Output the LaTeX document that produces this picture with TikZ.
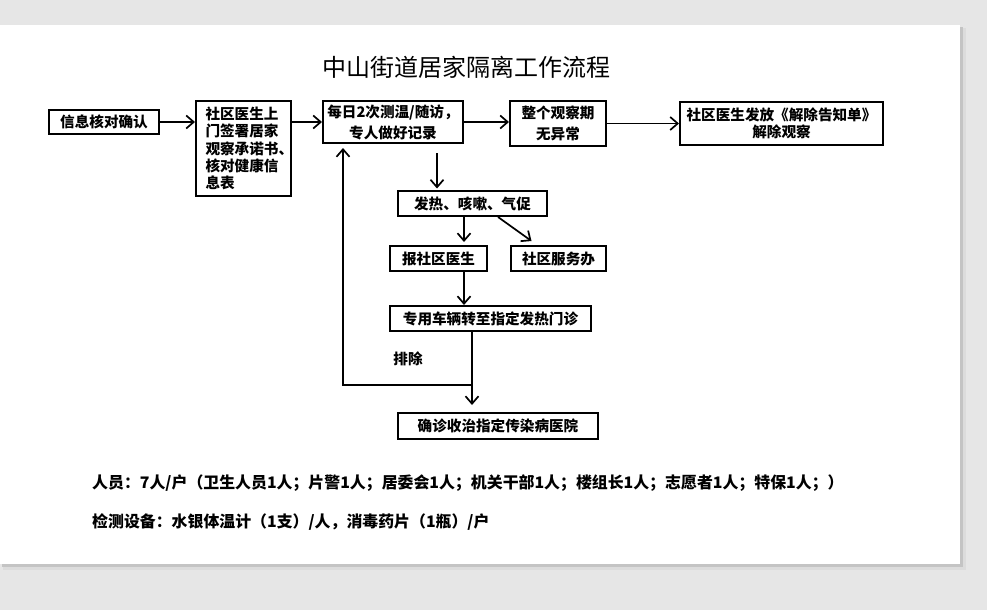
\documentclass[tikz,border=0pt]{standalone}
\usepackage{fontspec}
\setmainfont{Noto Sans CJK SC}
\usetikzlibrary{positioning, calc, arrows.meta}
\definecolor{Paper}{HTML}{FFFFFF}
\definecolor{Desk}{HTML}{E6E6E6}
\definecolor{Shade}{HTML}{C4C4C4}
\definecolor{Ink}{HTML}{000000}
\tikzset{
    stepbox/.style={rectangle, draw=Ink, line width=2pt, fill=Paper, text=Ink, align=center, inner sep=0pt, font=\bfseries\fontsize{14.6}{19}\selectfont},
    notetext/.style={anchor=west, inner sep=0pt, text=Ink, font=\bfseries\fontsize{15.9}{18}\selectfont},
    flow/.style={-{Straight Barb[length=7.5pt, width=13pt]}, line width=1.7pt, color=Ink},
}
\begin{document}
\begin{tikzpicture}[x=1pt, y=-1pt]
            \useasboundingbox (0,0) rectangle (987,610);

            % Sfondo e foglio
            \fill[Desk] (0,0) rectangle (987,610);
            \fill[Shade!60] (3,28) rectangle (966,570);
            \fill[Shade] (2,27) rectangle (963,567);
            \fill[Paper] (0,25) rectangle (960,564);

            % Titolo
            \node[font=\fontsize{24}{27}\selectfont] (title) at (466,67) {中山街道居家隔离工作流程};

            % Riga superiore
            \node[stepbox, minimum width=110, minimum height=24] (check) at (104,122) {信息核对确认};
            \node[stepbox, minimum width=95, minimum height=95, text width=76, align=left, font=\bfseries\fontsize{14.6}{17.2}\selectfont] (visit) at (243.5,148.5)
                {社区医生上\\门签署居家\\观察承诺书、\\核对健康信\\息表};
            \node[stepbox, minimum width=140, minimum height=42, font=\bfseries\fontsize{14.6}{21}\selectfont] (daily) at (393,122) {每日2次测温/随访，\\专人做好记录};
            \node[stepbox, minimum width=96, minimum height=45, font=\bfseries\fontsize{14.6}{21}\selectfont] (normal) at (558,123.5) {整个观察期\\无异常};
            \node[stepbox, minimum width=203, minimum height=43, font=\bfseries\fontsize{14.6}{17}\selectfont] (release) at (781.5,123.5) {社区医生发放《解除告知单》\\解除观察};

            % Ramo dei sintomi
            \node[stepbox, minimum width=149, minimum height=25] (fever) at (472.5,203.5) {发热、咳嗽、气促};
            \node[stepbox, minimum width=97, minimum height=25] (report) at (438.5,258.5) {报社区医生};
            \node[stepbox, minimum width=95, minimum height=25] (office) at (558.5,258.5) {社区服务办};
            \node[stepbox, minimum width=201, minimum height=25] (transfer) at (490.5,318.5) {专用车辆转至指定发热门诊};
            \node[stepbox, minimum width=200, minimum height=26] (hospital) at (498,426) {确诊收治指定传染病医院};
            \node[font=\bfseries\fontsize{14.6}{17}\selectfont] (exclude) at (408,359) {排除};

            % Note in basso
            \node[notetext] (staff) at (92,483) {人员：7人/户（卫生人员1人；片警1人；居委会1人；机关干部1人；楼组长1人；志愿者1人；特保1人；）};
            \node[notetext] (kit) at (92,522) {检测设备：水银体温计（1支）/人，消毒药片（1瓶）/户};

            % Punti di appoggio
            \coordinate (spine) at (464,0);
            \coordinate (drop) at (472,0);
            \coordinate (back) at (343,385);

            % Frecce orizzontali
            \draw[flow] (check.east) -- (check.east -| visit.west);
            \draw[flow] (visit.east |- daily.west) -- (daily.west);
            \draw[flow] (daily.east) -- (daily.east -| normal.west);
            \draw[flow] (normal.east) -- (normal.east -| release.west);

            % Frecce verticali
            \draw[flow] ([xshift=44pt, yshift=-9pt]daily.south) -- ([xshift=-35.5pt, yshift=1.5pt]fever.north);
            \draw[flow] (fever.south -| spine) -- ([yshift=3pt]report.north -| spine);
            \draw[flow] ([xshift=25.5pt]fever.south) -- ([xshift=-27pt, yshift=4pt]office.north);
            \draw[flow] (report.south -| spine) -- (transfer.north -| spine);
            \draw[flow] (transfer.south -| drop) -- ([yshift=7pt]hospital.north -| drop);

            % Ritorno dopo l'esclusione
            \draw[flow] (back -| drop) -- (back) -- ([yshift=-4pt]back |- daily.south);

        \end{tikzpicture}
\end{document}
